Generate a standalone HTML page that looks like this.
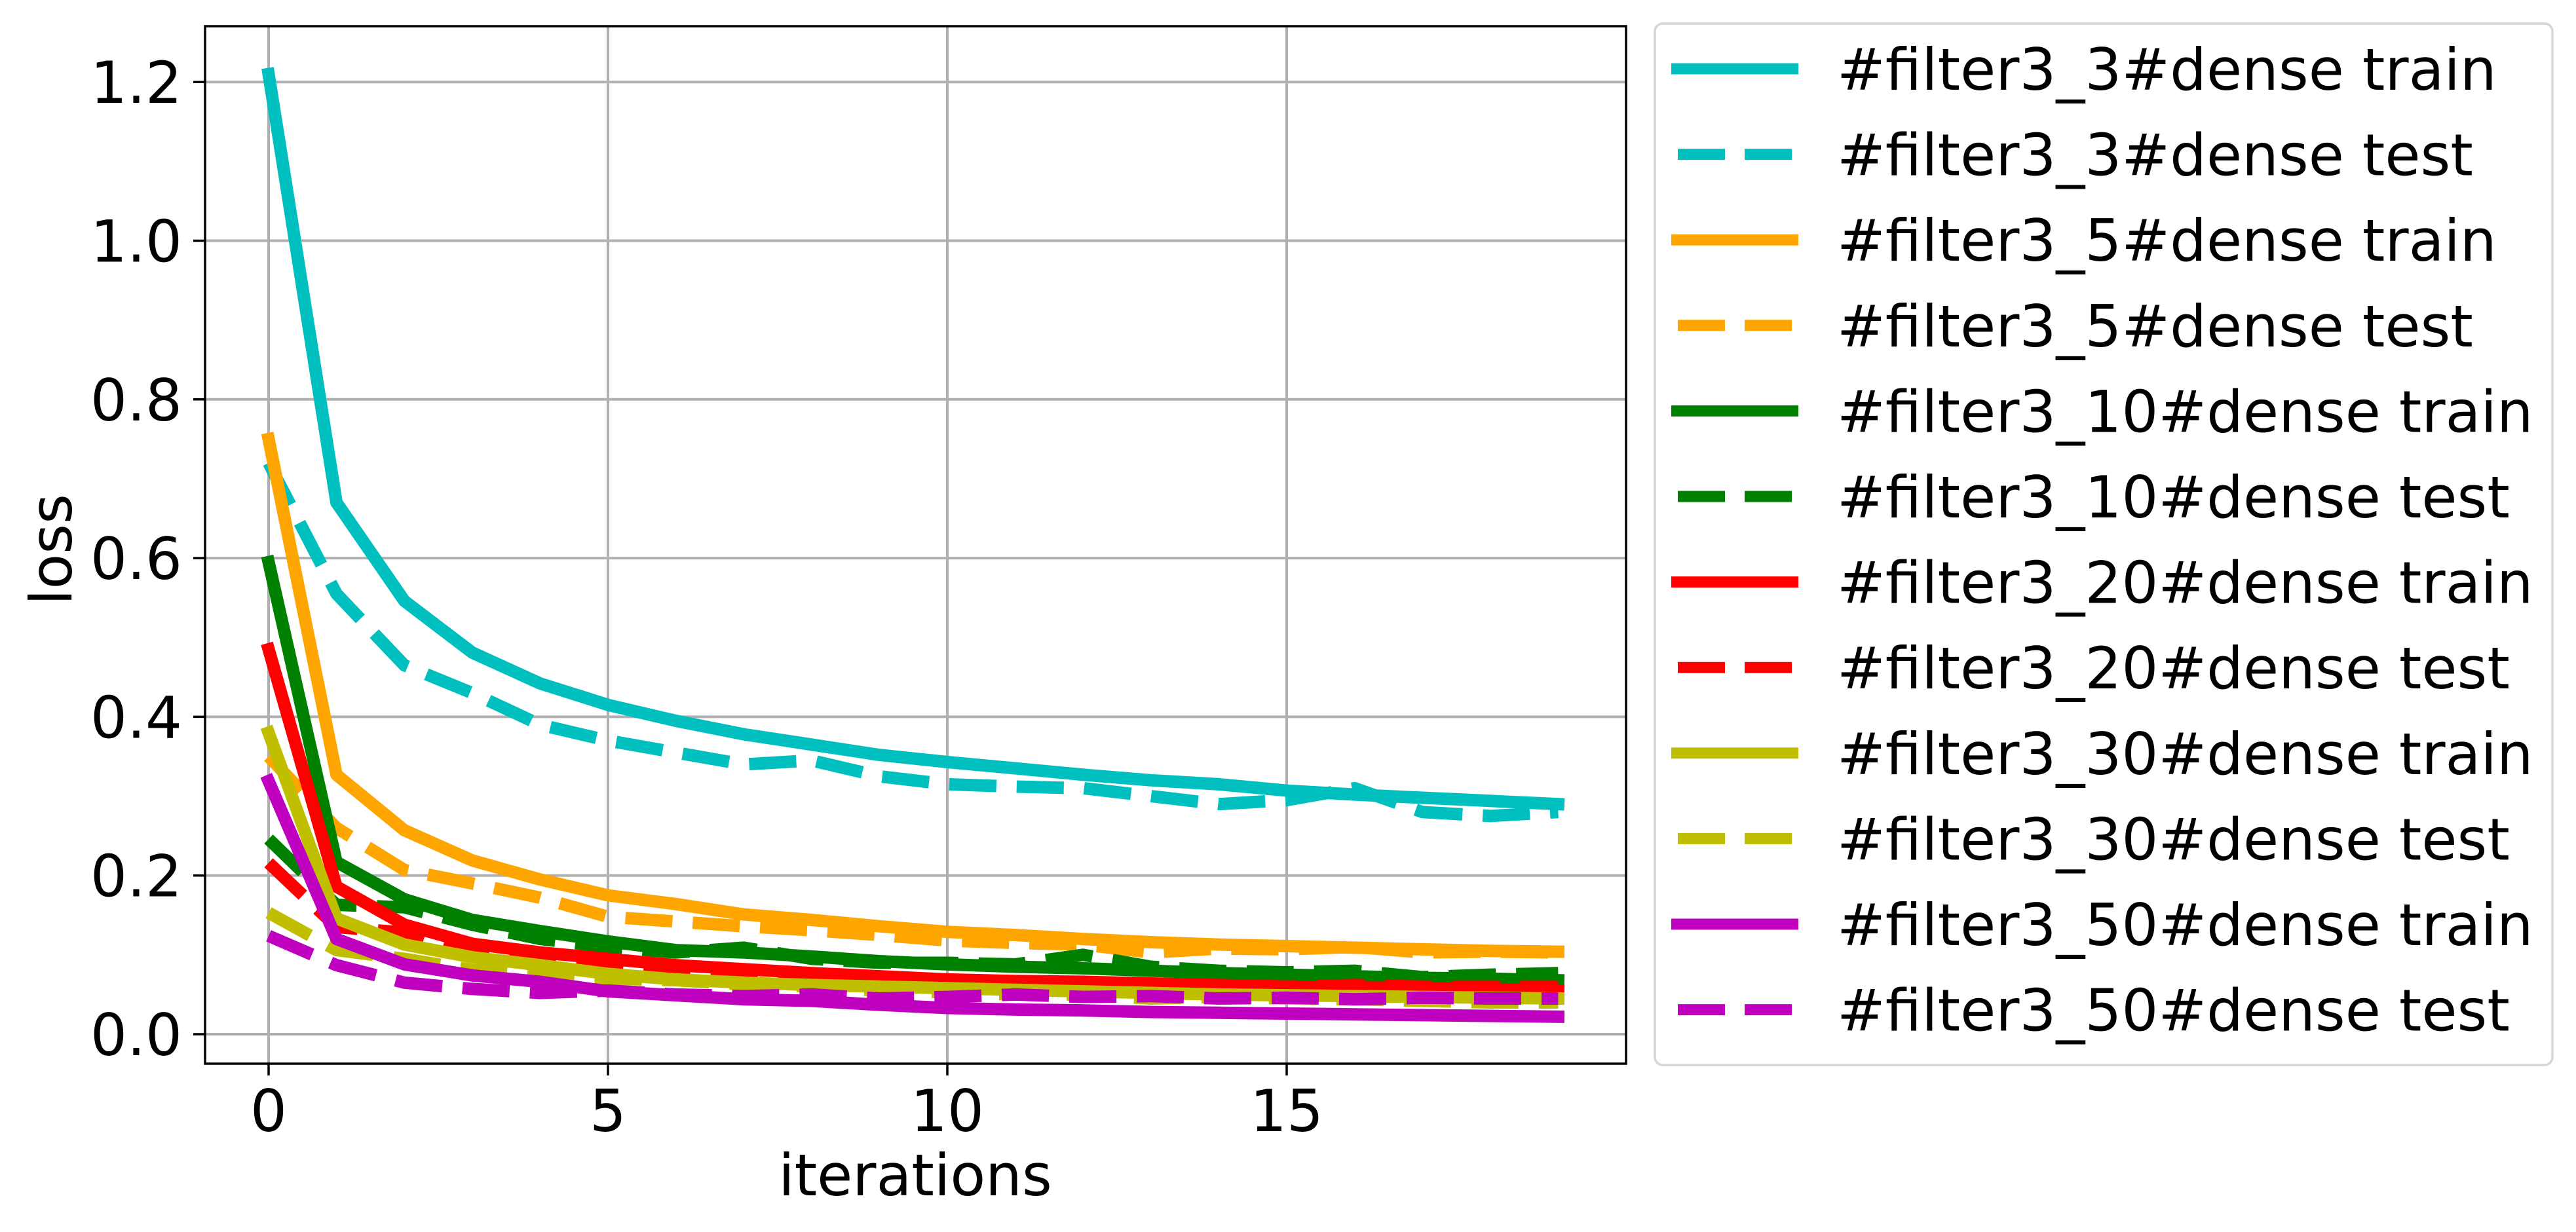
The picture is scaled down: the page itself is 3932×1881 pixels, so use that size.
<!DOCTYPE html>
<html><head><meta charset="utf-8"><style>
html,body{margin:0;padding:0;background:#fff;}
svg{display:block;}
text{font-family:"DejaVu Sans","Liberation Sans",sans-serif;fill:#000;}
</style></head><body>
<svg id="chart" width="3932" height="1881" viewBox="0 0 3932 1881" xmlns="http://www.w3.org/2000/svg">
<defs><clipPath id="plotclip"><rect x="313" y="40" width="2169" height="1584"/></clipPath></defs>
<rect x="0" y="0" width="3932" height="1881" fill="#fff"/>
<g id="grid"></g>
<g id="series" clip-path="url(#plotclip)"></g>
<rect x="313" y="40" width="2169" height="1584" fill="none" stroke="#000" stroke-width="3.5"/>
<g id="ticks"></g>
<text x="1397" y="1825" font-size="88" text-anchor="middle">iterations</text>
<text transform="translate(109,839) rotate(-90)" font-size="88" text-anchor="middle">loss</text>
<g id="legend">
<rect x="2526" y="36" width="1370" height="1590" rx="12" ry="12" fill="#fff" stroke="#d6d6d6" stroke-width="3.5"/>
</g>
</svg>
<script>
const iterations = [0,1,2,3,4,5,6,7,8,9,10,11,12,13,14,15,16,17,18,19];
const xTicks = [0,5,10,15];
const yTicks = [0.0,0.2,0.4,0.6,0.8,1.0,1.2];
const yTickLabels = ["0.0","0.2","0.4","0.6","0.8","1.0","1.2"];
const seriesNames = ["#filter3_3#dense train","#filter3_3#dense test","#filter3_5#dense train","#filter3_5#dense test","#filter3_10#dense train","#filter3_10#dense test","#filter3_20#dense train","#filter3_20#dense test","#filter3_30#dense train","#filter3_30#dense test","#filter3_50#dense train","#filter3_50#dense test"];
const f3Train = [1.21,0.67,0.546,0.481,0.442,0.415,0.395,0.378,0.365,0.352,0.343,0.335,0.327,0.32,0.315,0.307,0.302,0.298,0.294,0.29];
const f3Test = [0.72,0.555,0.465,0.43,0.39,0.37,0.355,0.34,0.345,0.325,0.315,0.312,0.31,0.3,0.29,0.295,0.31,0.28,0.275,0.28];
const f5Train = [0.75,0.327,0.257,0.219,0.195,0.175,0.164,0.151,0.144,0.136,0.129,0.125,0.12,0.116,0.113,0.111,0.109,0.107,0.105,0.104];
const f5Test = [0.35,0.26,0.207,0.19,0.172,0.148,0.142,0.136,0.131,0.125,0.118,0.115,0.113,0.103,0.108,0.107,0.11,0.103,0.104,0.103];
const f10Train = [0.595,0.217,0.17,0.144,0.13,0.117,0.106,0.103,0.098,0.092,0.088,0.085,0.083,0.08,0.077,0.075,0.073,0.071,0.07,0.068];
const f10Test = [0.246,0.163,0.16,0.138,0.12,0.11,0.103,0.109,0.095,0.09,0.09,0.088,0.1,0.085,0.08,0.078,0.08,0.072,0.075,0.077];
const f20Train = [0.485,0.186,0.138,0.114,0.103,0.095,0.087,0.082,0.077,0.073,0.069,0.067,0.066,0.064,0.062,0.06,0.059,0.058,0.057,0.055];
const f20Test = [0.216,0.135,0.128,0.1,0.09,0.085,0.075,0.072,0.07,0.068,0.065,0.063,0.062,0.06,0.062,0.06,0.062,0.06,0.06,0.06];
const f30Train = [0.38,0.146,0.113,0.097,0.087,0.076,0.069,0.065,0.062,0.06,0.058,0.056,0.054,0.052,0.05,0.049,0.048,0.047,0.046,0.045];
const f30Test = [0.153,0.106,0.095,0.081,0.075,0.07,0.068,0.063,0.06,0.055,0.053,0.05,0.05,0.045,0.047,0.045,0.044,0.042,0.04,0.04];
const f50Train = [0.319,0.12,0.088,0.074,0.066,0.054,0.049,0.044,0.042,0.037,0.033,0.031,0.03,0.028,0.027,0.026,0.025,0.024,0.023,0.022];
const f50Test = [0.124,0.087,0.065,0.057,0.052,0.055,0.05,0.048,0.05,0.045,0.047,0.05,0.047,0.048,0.045,0.046,0.044,0.046,0.045,0.045];

const NS = "http://www.w3.org/2000/svg";
function xScale(v){ return 410 + v * 103.6; }
function yScale(v){ return 1579 - v * 1211.5; }
function mk(tag, attrs, parent){ const e = document.createElementNS(NS, tag); for (const k in attrs) e.setAttribute(k, attrs[k]); parent.appendChild(e); return e; }

const grid = document.getElementById('grid');
const ticks = document.getElementById('ticks');
xTicks.forEach(function(t){
  const gl = mk('line', {x1:xScale(t), x2:xScale(t), y1:40, y2:1624, stroke:'#b0b0b0', 'stroke-width':4}, grid);
  
  
  const tk = mk('line', {x1:xScale(t), x2:xScale(t), y1:1624, y2:1642, stroke:'#000', 'stroke-width':3.5}, ticks);
  
  
  const tl = mk('text', {x:xScale(t), y:1727, 'font-size':88, 'text-anchor':'middle'}, ticks);
  tl.textContent = String(t);
  
  
});
yTicks.forEach(function(t, i){
  const gl = mk('line', {x1:313, x2:2482, y1:yScale(t), y2:yScale(t), stroke:'#b0b0b0', 'stroke-width':4}, grid);
  
  
  const tk = mk('line', {x1:295, x2:313, y1:yScale(t), y2:yScale(t), stroke:'#000', 'stroke-width':3.5}, ticks);
  
  
  const tl = mk('text', {x:278, y:yScale(t) + 32, 'font-size':88, 'text-anchor':'end'}, ticks);
  tl.textContent = yTickLabels[i];
  
  
});

const seriesData = [f3Train,f3Test,f5Train,f5Test,f10Train,f10Test,f20Train,f20Test,f30Train,f30Test,f50Train,f50Test];
const colors = ['#00bfbf','#00bfbf','#ffa500','#ffa500','#008000','#008000','#ff0000','#ff0000','#bfbf00','#bfbf00','#bf00bf','#bf00bf'];
const sg = document.getElementById('series');
const lg = document.getElementById('legend');
seriesData.forEach(function(vals, s){
  const dashed = s % 2 === 1;
  const pts = vals.map(function(v, i){ return xScale(iterations[i]).toFixed(1) + ',' + yScale(v).toFixed(1); }).join(' ');
  const attrs = {points:pts, fill:'none', stroke:colors[s], 'stroke-width':19, 'stroke-linejoin':'round', 'stroke-linecap': dashed ? 'butt' : 'square'};
  if (dashed) attrs['stroke-dasharray'] = '72 31';
  const pl = mk('polyline', attrs, sg);
  
  
  const ry = 105 + s * 130.6;
  const la = {x1:2551, x2:2745, y1:ry, y2:ry, stroke:colors[s], 'stroke-width':17};
  if (dashed) { la.x1 = 2561; la.x2 = 2735; la['stroke-dasharray'] = '72 30'; }
  const ll = mk('line', la, lg);
  
  
  const lt = mk('text', {x:2804, y:ry + 32, 'font-size':88}, lg);
  lt.textContent = seriesNames[s];
  
  
});
</script>
</body></html>
